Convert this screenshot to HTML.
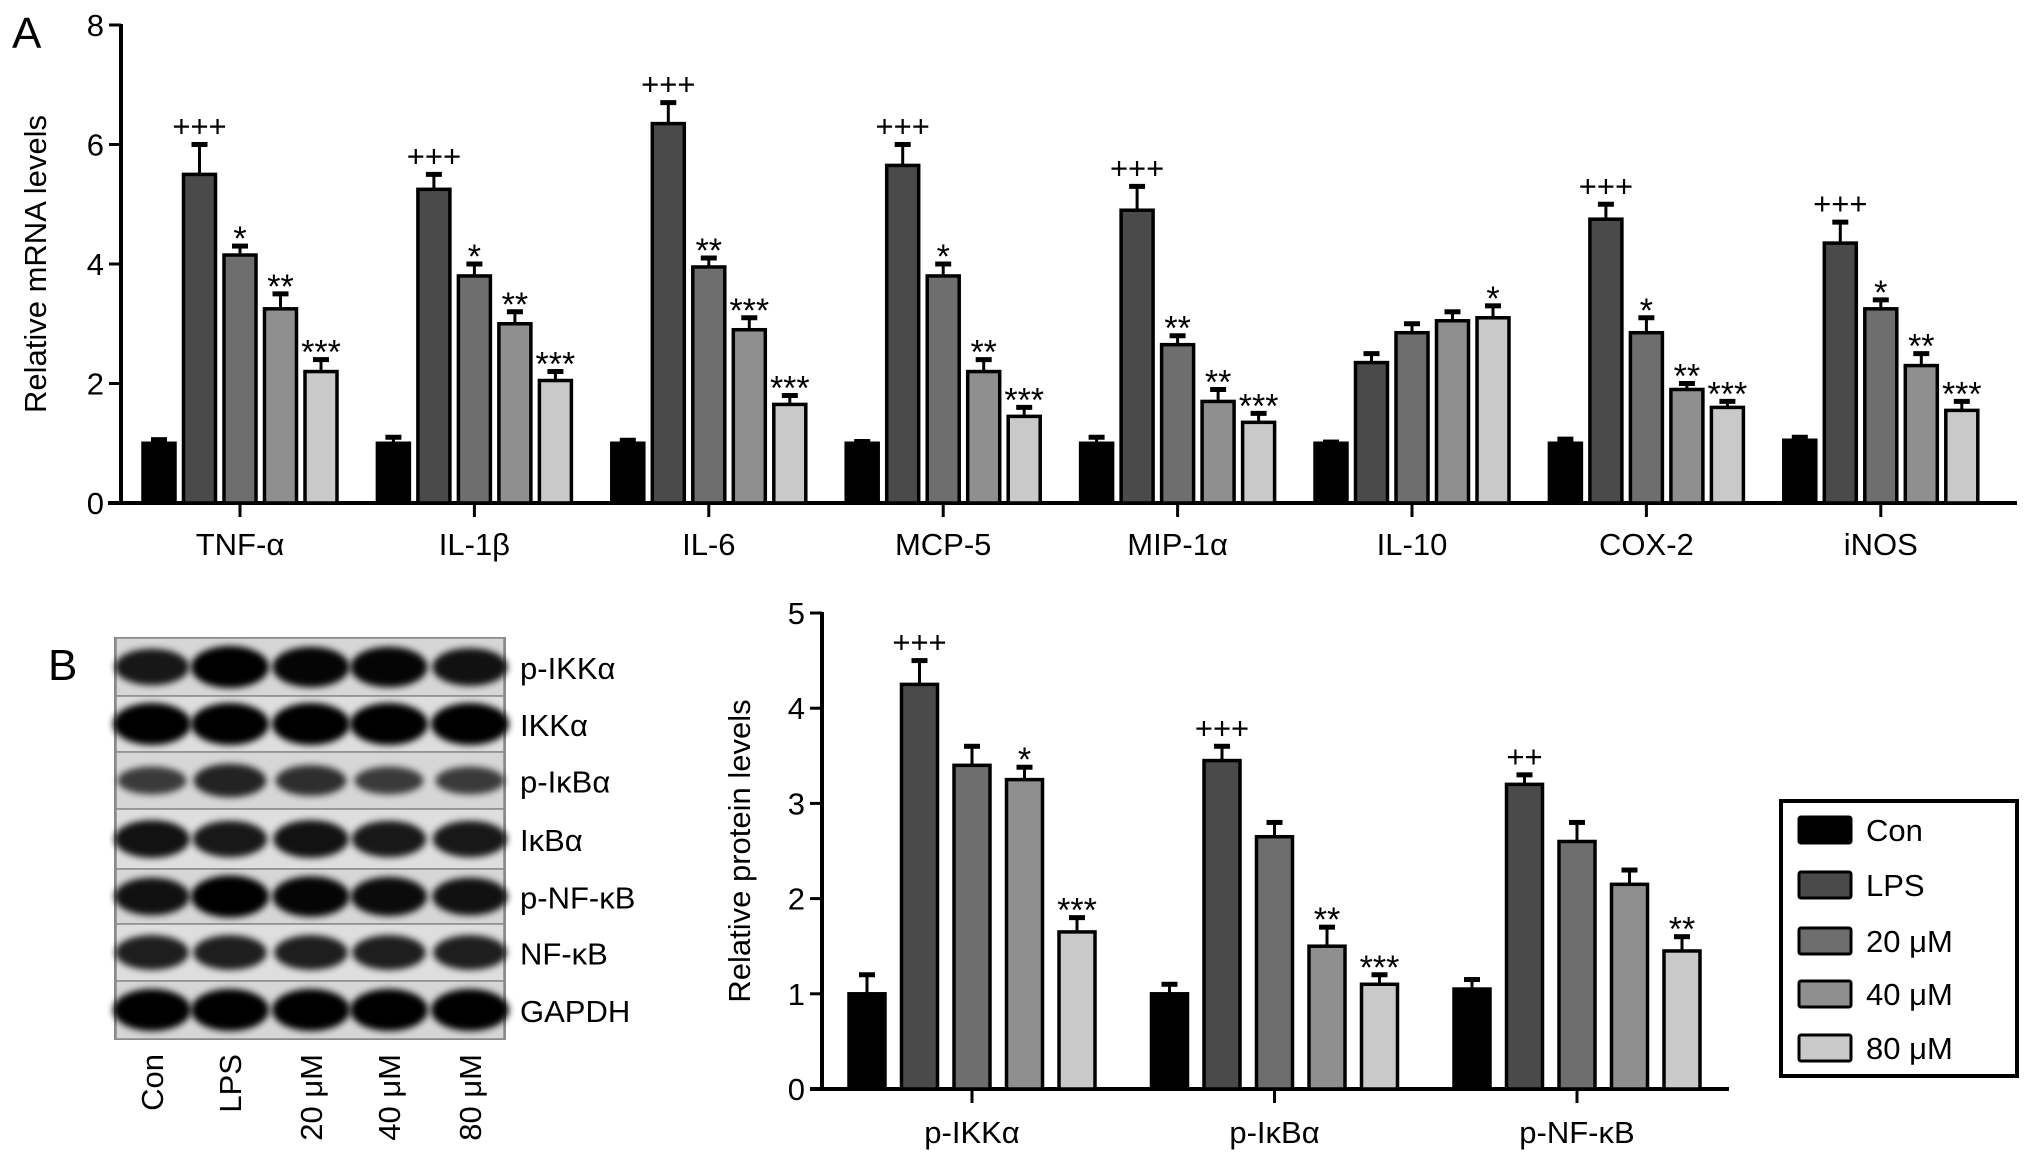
<!DOCTYPE html>
<html><head><meta charset="utf-8"><style>
html,body{margin:0;padding:0;background:#fff;}
svg{display:block;font-family:"Liberation Sans",Arial,sans-serif;}
</style></head><body>
<svg id="fig" width="2032" height="1161" viewBox="0 0 2032 1161">
<defs>
<filter id="blur" x="-20%" y="-50%" width="140%" height="200%"><feGaussianBlur stdDeviation="3.5"/></filter>
</defs>
<text x="12" y="48" font-size="44">A</text>
<text x="48" y="680" font-size="44">B</text>
<g id="chartA"></g>
<g id="blot"></g>
<g id="chartB"></g>
<g id="legend"></g>
</svg>
<script>
const seriesNames = ["Con","LPS","20 μM","40 μM","80 μM"];
const seriesColors = ["#000000","#4a4a4a","#6e6e6e","#8f8f8f","#c9c9c9"];

const catsA = ["TNF-α","IL-1β","IL-6","MCP-5","MIP-1α","IL-10","COX-2","iNOS"];
const conA  = [1.0,1.0,1.0,1.0,1.0,1.0,1.0,1.05];
const lpsA  = [5.5,5.25,6.35,5.65,4.9,2.35,4.75,4.35];
const d20A  = [4.15,3.8,3.95,3.8,2.65,2.85,2.85,3.25];
const d40A  = [3.25,3.0,2.9,2.2,1.7,3.05,1.9,2.3];
const d80A  = [2.2,2.05,1.65,1.45,1.35,3.1,1.6,1.55];
const conAe = [1.06,1.1,1.05,1.03,1.1,1.02,1.07,1.1];
const lpsAe = [6.0,5.5,6.7,6.0,5.3,2.5,5.0,4.7];
const d20Ae = [4.3,4.0,4.1,4.0,2.8,3.0,3.1,3.4];
const d40Ae = [3.5,3.2,3.1,2.4,1.9,3.2,2.0,2.5];
const d80Ae = [2.4,2.2,1.8,1.6,1.5,3.3,1.7,1.7];
const sigA = [["","+++","*","**","***"],["","+++","*","**","***"],["","+++","**","***","***"],["","+++","*","**","***"],["","+++","**","**","***"],["","","","","*"],["","+++","*","**","***"],["","+++","*","**","***"]];
const ticksA = [0,2,4,6,8];

const catsB = ["p-IKKα","p-IκBα","p-NF-κB"];
const conB  = [1.0,1.0,1.05];
const lpsB  = [4.25,3.45,3.2];
const d20B  = [3.4,2.65,2.6];
const d40B  = [3.25,1.5,2.15];
const d80B  = [1.65,1.1,1.45];
const conBe = [1.2,1.1,1.15];
const lpsBe = [4.5,3.6,3.3];
const d20Be = [3.6,2.8,2.8];
const d40Be = [3.38,1.7,2.3];
const d80Be = [1.8,1.2,1.6];
const sigB = [["","+++","","*","***"],["","+++","","**","***"],["","++","","","**"]];
const ticksB = [0,1,2,3,4,5];

const blotRows = ["p-IKKα","IKKα","p-IκBα","IκBα","p-NF-κB","NF-κB","GAPDH"];
const bandIntensity = [[0.8,1.0,0.95,0.95,0.85],[1,1,1,1,1],[0.5,0.7,0.6,0.5,0.5],[0.85,0.8,0.85,0.8,0.8],[0.85,1.0,0.95,0.9,0.85],[0.75,0.75,0.75,0.75,0.75],[1,1,1,1,1]];

const NS="http://www.w3.org/2000/svg";
function mk(tag, attrs, parent, text){
  const e=document.createElementNS(NS,tag);
  for(const k in attrs) e.setAttribute(k,attrs[k]);
  if(text!==undefined) e.textContent=text;
  parent.appendChild(e); return e;
}

function drawChart(g, opt){
  const y = v => opt.y0 - (v-opt.vmin)/(opt.vmax-opt.vmin)*(opt.y0-opt.y1);
  const x = i => opt.cx0 + i*opt.gap;
  let e = mk('line',{x1:opt.ax,y1:y(opt.vmax)-1,x2:opt.ax,y2:opt.y0+2,stroke:'#000','stroke-width':4},g);
   
  e = mk('line',{x1:opt.xa0,y1:opt.y0,x2:opt.xa1,y2:opt.y0,stroke:'#000','stroke-width':4},g);
   
  opt.ticks.forEach(t=>{
    mk('line',{x1:opt.ax-12,y1:y(t),x2:opt.ax,y2:y(t),stroke:'#000','stroke-width':3},g);
    const tl = mk('text',{x:opt.ax-17,y:y(t)+11,'font-size':31,'text-anchor':'end'},g,String(t));
     
  });
  const yt = mk('text',{x:opt.titleX,y:(opt.y0+y(opt.vmax))/2,'font-size':31,'text-anchor':'middle',transform:`rotate(-90 ${opt.titleX} ${(opt.y0+y(opt.vmax))/2})`},g,opt.title);
   
  opt.cats.forEach((c,i)=>{
    const cx=x(i);
    mk('line',{x1:cx,y1:opt.y0,x2:cx,y2:opt.y0+14,stroke:'#000','stroke-width':3},g);
    const lab=mk('text',{x:cx,y:opt.labelY,'font-size':31,'text-anchor':'middle'},g,c);
     
    for(let s=0;s<5;s++){
      const bx = cx + (s-2)*opt.pitch;
      const v = opt.vals[s][i], ev = opt.errs[s][i];
      const top=y(v), etop=y(ev);
      const el = mk('line',{x1:bx,y1:etop,x2:bx,y2:top,stroke:'#000','stroke-width':3},g);
       
      mk('line',{x1:bx-8,y1:etop,x2:bx+8,y2:etop,stroke:'#000','stroke-width':5},g);
      const r = mk('rect',{x:bx-opt.bw/2,y:top,width:opt.bw,height:opt.y0-top,fill:seriesColors[s],stroke:'#000','stroke-width':3.5},g);
       
      const sg = opt.sig[i][s];
      if(sg){
        const isPlus = sg[0]==='+';
        const t = mk('text',{x:bx,y:etop-(isPlus?8:-4),'font-size':isPlus?31:34,'text-anchor':'middle'},g,sg);
         
      }
    }
  });
}

drawChart(document.getElementById('chartA'),{
  cats:catsA, vals:[conA,lpsA,d20A,d40A,d80A], errs:[conAe,lpsAe,d20Ae,d40Ae,d80Ae], sig:sigA,
  ticks:ticksA, vmin:0, vmax:8, y0:503, y1:25, ax:121, xa0:108, xa1:2017,
  cx0:240, gap:234.4, pitch:40.5, bw:32, labelY:555, title:"Relative mRNA levels", titleX:46
});
drawChart(document.getElementById('chartB'),{
  cats:catsB, vals:[conB,lpsB,d20B,d40B,d80B], errs:[conBe,lpsBe,d20Be,d40Be,d80Be], sig:sigB,
  ticks:ticksB, vmin:0, vmax:5, y0:1089, y1:613, ax:822, xa0:810, xa1:1729,
  cx0:972, gap:302.5, pitch:52.5, bw:36, labelY:1143, title:"Relative protein levels", titleX:750
});

(function(){
  const g=document.getElementById('legend');
  mk('rect',{x:1781,y:801,width:236,height:275,fill:'#fff',stroke:'#000','stroke-width':4},g);
  const rowsY=[830,885,941,994,1048];
  seriesNames.forEach((n,i)=>{
    const sw=mk('rect',{x:1799,y:rowsY[i]-13,width:52,height:26,fill:seriesColors[i],stroke:'#000','stroke-width':3,rx:2},g);
     
    const t=mk('text',{x:1866,y:rowsY[i]+11,'font-size':31},g,n);
     
  });
})();

(function(){
  const g=document.getElementById('blot');
  const bounds=[638,696,752,809,869,924,981,1039];
  const lanes=[152,230,311,389,470];
  mk('rect',{x:115,y:638,width:390,height:401,fill:'#d9d9d9',stroke:'#8a8a8a','stroke-width':2},g);
  blotRows.forEach((r,ri)=>{
    const top=bounds[ri], bot=bounds[ri+1], cy=(top+bot)/2;
    mk('rect',{x:116,y:top,width:388,height:bot-top,fill:ri%2?'#dedede':'#d6d6d6',stroke:'#8a8a8a','stroke-width':1.5},g);
    lanes.forEach((lx,li)=>{
      const k=bandIntensity[ri][li];
      const b=mk('ellipse',{cx:lx,cy:cy,rx:30+k*9,ry:7+k*14,fill:'#050505',opacity:0.45+0.55*k,filter:'url(#blur)'},g);
       
    });
    const t=mk('text',{x:520,y:cy+12,'font-size':31},g,r);
     
  });
  seriesNames.forEach((n,i)=>{
    const x=lanes[i]+11, y=1054;
    const t=mk('text',{x:x,y:y,'font-size':31,'text-anchor':'end',transform:`rotate(-90 ${x} ${y})`},g,n);
     
  });
})();
</script>
</body></html>
